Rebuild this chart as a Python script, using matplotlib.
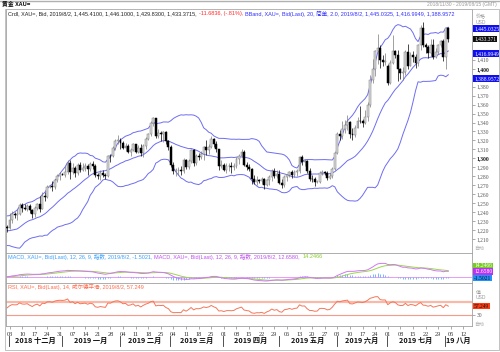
import matplotlib
matplotlib.use('Agg')
import matplotlib.pyplot as plt
import matplotlib.transforms as mtrans
from matplotlib.lines import Line2D
from matplotlib.patches import Rectangle
import numpy as np
import pandas as pd
import warnings
warnings.filterwarnings('ignore')

# ---------------- data ----------------
# closes before the visible window (2018-09-03 .. 2018-11-29), used for indicator warm-up
hist_close = [1200, 1192, 1198, 1201, 1196, 1195, 1189, 1206, 1201, 1194,
              1201, 1198, 1204, 1209, 1199, 1199, 1201, 1194, 1183, 1191,
              1188, 1204, 1202, 1199, 1203, 1188, 1190, 1194, 1224, 1218,
              1230, 1226, 1223, 1226, 1227, 1222, 1230, 1232, 1231, 1234,
              1228, 1222, 1214,
              1233, 1232, 1230, 1226, 1226, 1224, 1209, 1200, 1201, 1210,
              1214, 1222, 1224, 1222, 1227, 1226, 1222, 1222, 1214, 1221, 1223]

# visible daily candles 2018-11-30 .. 2019-08-02
opens = [1223.3,1222.5,1231.5,1238.0,1237.0,1238.0,1248.0,1244.5,1244.0,1246.5,
1242.0,1238.0,1245.0,1249.0,1243.5,1258.0,1257.0,1268.5,1269.0,1267.5,
1276.0,1280.5,1282.5,1282.0,1284.5,1294.5,1285.0,1289.5,1283.5,1292.5,
1287.5,1289.5,1291.5,1288.0,1294.0,1292.0,1282.0,1280.0,1283.5,1282.0,
1280.5,1303.0,1302.5,1312.0,1319.5,1321.0,1317.5,1311.5,1314.0,1307.0,
1309.5,1315.5,1307.5,1312.0,1305.5,1313.5,1321.5,1327.0,1340.0,1344.5,
1324.5,1328.5,1327.5,1329.0,1319.0,1313.0,1293.0,1286.0,1286.5,1286.5,
1286.0,1298.5,1290.0,1297.5,1309.5,1295.0,1302.5,1301.5,1305.0,1312.5,
1309.5,1313.0,1322.0,1315.5,1310.0,1291.0,1292.5,1287.0,1291.0,1291.5,
1290.5,1292.0,1299.0,1303.0,1307.0,1293.0,1290.0,1288.0,1276.5,1273.5,
1275.5,1275.0,1276.5,1270.5,1275.5,1279.0,1286.0,1280.5,1283.0,1273.0,
1270.0,1279.5,1281.0,1284.5,1281.0,1284.5,1285.5,1301.0,1296.5,1297.0,
1286.0,1277.5,1277.0,1273.5,1274.0,1284.0,1284.5,1283.5,1278.5,1280.0,
1288.5,1305.5,1327.0,1325.0,1333.0,1337.5,1341.0,1327.5,1326.5,1334.0,
1342.0,1341.5,1340.0,1346.5,1360.0,1387.0,1399.5,1419.5,1423.0,1409.5,
1408.0,1403.0,1384.5,1406.5,1419.5,1415.0,1400.0,1395.5,1396.5,1419.0,
1403.5,1415.5,1413.5,1406.5,1426.0,1445.5,1426.5,1424.5,1417.5,1426.5,
1413.0,1418.5,1426.5,1430.5,1413.5,1445.41]

highs = [1226.0,1238.5,1241.0,1240.5,1243.5,1250.5,1250.5,1249.0,1249.5,1249.5,
1244.0,1246.5,1250.5,1258.5,1262.0,1262.5,1270.5,1270.0,1275.0,1277.5,
1283.0,1284.5,1284.0,1292.0,1298.0,1298.5,1294.5,1291.0,1295.0,1295.5,
1295.0,1294.5,1294.0,1296.0,1297.0,1294.0,1284.0,1286.5,1286.5,1283.5,
1304.0,1304.5,1313.5,1322.0,1326.0,1323.0,1319.5,1317.0,1315.5,1312.0,
1317.5,1316.0,1315.0,1315.5,1316.5,1323.5,1328.5,1341.5,1346.5,1345.5,
1332.5,1331.0,1330.5,1330.0,1320.5,1314.5,1296.0,1289.5,1290.0,1292.0,
1300.0,1299.5,1299.0,1311.0,1310.0,1305.0,1305.5,1308.5,1314.0,1320.0,
1316.5,1324.5,1323.0,1319.5,1311.0,1298.5,1295.0,1295.0,1295.0,1295.5,
1295.0,1301.0,1305.0,1310.0,1309.0,1296.0,1294.0,1289.0,1281.5,1280.5,
1277.5,1279.0,1278.0,1277.5,1281.5,1288.0,1289.0,1286.5,1287.0,1276.5,
1281.0,1283.0,1286.0,1287.0,1287.0,1288.0,1302.5,1303.5,1299.5,1298.0,
1289.0,1281.5,1279.0,1276.0,1286.0,1287.5,1286.0,1286.0,1284.0,1290.0,
1306.0,1329.0,1332.0,1341.5,1342.5,1348.5,1342.0,1333.5,1337.0,1346.0,
1358.0,1344.0,1353.5,1363.0,1393.5,1411.0,1421.0,1439.0,1426.5,1415.5,
1418.0,1405.0,1410.0,1437.5,1421.0,1420.5,1400.5,1402.0,1420.5,1427.5,
1418.5,1419.5,1416.0,1427.5,1448.5,1452.5,1428.5,1426.5,1433.0,1433.0,
1423.0,1428.0,1432.0,1433.0,1446.0,1446.10]

lows = [1217.5,1221.5,1227.5,1234.0,1231.0,1236.5,1240.0,1242.5,1241.5,1238.5,
1233.5,1234.5,1242.5,1240.5,1243.0,1252.5,1255.5,1266.5,1264.0,1265.5,
1273.5,1276.0,1281.0,1279.0,1283.0,1276.5,1283.0,1279.0,1282.0,1284.5,
1286.0,1286.0,1281.5,1286.0,1288.0,1279.5,1276.5,1276.0,1279.5,1276.5,
1279.0,1296.0,1301.0,1309.0,1316.5,1310.0,1310.5,1308.0,1305.5,1302.5,
1308.0,1305.5,1306.0,1303.0,1302.0,1310.0,1320.5,1325.0,1336.5,1322.5,
1323.0,1319.5,1318.0,1315.5,1309.0,1290.5,1283.0,1280.5,1282.0,1281.5,
1283.5,1288.0,1288.0,1295.0,1292.0,1293.0,1298.0,1299.0,1298.5,1304.0,
1305.0,1311.5,1312.5,1307.0,1287.5,1289.5,1285.5,1283.5,1286.0,1283.5,
1286.5,1289.0,1293.5,1302.0,1291.5,1286.5,1285.5,1271.5,1271.0,1270.0,
1273.0,1271.5,1266.0,1269.5,1270.0,1274.5,1278.5,1278.0,1271.0,1266.5,
1267.5,1275.0,1279.5,1278.0,1279.5,1280.5,1283.5,1293.0,1291.5,1284.0,
1275.0,1274.0,1269.5,1272.0,1272.5,1281.0,1282.0,1276.0,1277.0,1278.0,
1287.5,1304.5,1320.5,1322.0,1328.5,1332.0,1323.0,1320.5,1324.0,1333.5,
1339.5,1334.5,1338.0,1341.5,1357.5,1384.5,1392.0,1405.5,1401.0,1403.5,
1404.5,1381.5,1382.5,1405.0,1411.5,1386.0,1388.5,1388.0,1393.5,1399.5,
1403.0,1407.5,1400.5,1403.0,1420.5,1424.5,1418.0,1412.5,1414.0,1411.0,
1412.0,1417.0,1424.0,1409.0,1400.0,1429.83]

closes = [1222.5,1231.5,1238.0,1237.0,1238.0,1248.0,1244.5,1244.0,1246.5,1242.0,
1238.0,1245.0,1249.0,1243.5,1258.0,1257.0,1268.5,1269.0,1267.5,1276.0,
1280.5,1282.5,1282.0,1284.5,1294.5,1285.0,1289.5,1283.5,1292.5,1287.5,
1289.5,1291.5,1288.0,1294.0,1292.0,1282.0,1280.0,1283.5,1282.0,1280.5,
1303.0,1302.5,1312.0,1319.5,1321.0,1317.5,1311.5,1314.0,1307.0,1309.5,
1315.5,1307.5,1312.0,1305.5,1313.5,1321.5,1327.0,1340.0,1344.5,1324.5,
1328.5,1327.5,1329.0,1319.0,1313.0,1293.0,1286.0,1286.5,1286.5,1286.0,
1298.5,1290.0,1297.5,1309.5,1295.0,1302.5,1301.5,1305.0,1312.5,1309.5,
1313.0,1322.0,1315.5,1310.0,1291.0,1292.5,1287.0,1291.0,1291.5,1290.5,
1292.0,1299.0,1303.0,1307.0,1293.0,1290.0,1288.0,1276.5,1273.5,1275.5,
1275.0,1276.5,1270.5,1275.5,1279.0,1286.0,1280.5,1283.0,1273.0,1270.0,
1279.5,1281.0,1284.5,1281.0,1284.5,1285.5,1301.0,1296.5,1297.0,1286.0,
1277.5,1277.0,1273.5,1274.0,1284.0,1284.5,1283.5,1278.5,1280.0,1288.5,
1305.5,1327.0,1325.0,1333.0,1337.5,1341.0,1327.5,1326.5,1334.0,1342.0,
1341.5,1340.0,1346.5,1360.0,1387.0,1399.5,1419.5,1423.0,1409.5,1408.0,
1409.0,1384.5,1406.5,1419.5,1415.0,1400.0,1395.5,1396.5,1419.0,1403.5,
1415.5,1413.5,1406.5,1426.0,1445.5,1426.5,1424.5,1417.5,1426.5,1413.0,
1418.5,1426.5,1430.5,1413.5,1445.0,1433.37]

start_date = '2018-11-30'
end_date = '2019-08-15'
price_ticks = [1210, 1220, 1230, 1240, 1250, 1260, 1270, 1280, 1290, 1300,
               1310, 1320, 1330, 1340, 1350, 1360, 1370, 1380, 1400, 1410]
bold_ticks = [1300, 1400]
month_names = {12: '2018 十二月', 1: '2019 一月', 2: '2019 二月', 3: '2019 三月',
               4: '2019 四月', 5: '2019 五月', 6: '2019 六月', 7: '2019 七月', 8: '19 八月'}

# last values as printed on the chart (value boxes on the right)
last_close = 1433.3715
bb_last = [1445.0325, 1416.9949, 1388.9572]
macd_last = 12.6580
signal_last = 14.2466
hist_last = -1.5021
rsi_last = 57.249

title_text = '黄金 XAU='
range_text = '2018/11/30 - 2019/08/15 (GMT)'
hdr_main = [('Crdl, XAU=, Bid, 2019/8/2, 1,445.4100, 1,446.1000, 1,429.8300, 1,433.3715,', '#222222'),
            ('-11.6836, (-.81%),', '#ff2a2a'),
            ('BBand, XAU=, Bid(Last), 20, 简单, 2.0, 2019/8/2, 1,445.0325, 1,416.9949, 1,388.9572', '#3030ff')]
hdr_macd = [('MACD, XAU=, Bid(Last), 12, 26, 9, 指数, 2019/8/2, -1.5021,', '#3aa0ff'),
            ('MACD, XAU=, Bid(Last), 12, 26, 9, 指数, 2019/8/2, 12.6580,', '#c050f0'),
            ('14.2466', '#88cc33')]
hdr_rsi = [('RSI, XAU=, Bid(Last), 14, 威尔德平滑, 2019/8/2, 57.249', '#ff6a4a')]

# ---------------- indicators ----------------
all_close = pd.Series(hist_close + closes, dtype=float)
n_hist = len(hist_close)
mid = all_close.rolling(20).mean()
sd = all_close.rolling(20).std(ddof=0)
upper = (mid + 2 * sd).iloc[n_hist:].values
lower = (mid - 2 * sd).iloc[n_hist:].values
mid = mid.iloc[n_hist:].values
ema12 = all_close.ewm(span=12, adjust=False).mean()
ema26 = all_close.ewm(span=26, adjust=False).mean()
macd = ema12 - ema26
signal = macd.ewm(span=9, adjust=False).mean()
hist = (macd - signal).iloc[n_hist:].values
macd_v = macd.iloc[n_hist:].values
signal_v = signal.iloc[n_hist:].values
delta = all_close.diff()
gain = delta.clip(lower=0).ewm(alpha=1/14, adjust=False).mean()
loss = (-delta.clip(upper=0)).ewm(alpha=1/14, adjust=False).mean()
rsi = (100 - 100 / (1 + gain / loss)).iloc[n_hist:].values

dates = pd.bdate_range(start_date, end_date)
n = len(closes)
xi = np.arange(n)

# ---------------- figure ----------------
W, H = 500, 352
fig = plt.figure(figsize=(W / 100, H / 100), dpi=100)
FN = ['Liberation Sans Narrow', 'Liberation Sans', 'Noto Sans CJK SC']
FS = ['Liberation Serif', 'Noto Sans CJK SC']
FC = ['Noto Sans CJK SC', 'DejaVu Sans']

def fx(p):
    return p / W

def fy(p):
    return 1 - p / H

X0, X1 = 6, 472
def add_ax(y0, y1):
    return fig.add_axes([fx(X0), fy(y1), (X1 - X0) / W, (y1 - y0) / H])

ax = add_ax(9, 253)
axm = add_ax(253, 283)
axr = add_ax(283, 326)
XL = (-0.4, len(dates) - 0.6)

for a in (ax, axm, axr):
    a.set_xlim(*XL)
    a.set_xticks([])
    for s in a.spines.values():
        s.set_color('#a0a0a0')
        s.set_linewidth(0.6)
    a.yaxis.tick_right()
    a.tick_params(axis='y', length=2, width=0.5, color='#888888', pad=1.5,
                  labelsize=4, labelcolor='#555555')

# candles
o = np.array(opens); h = np.array(highs); l = np.array(lows); c = np.array(closes)
up = c >= o
ax.vlines(xi[up], l[up], h[up], color='#7a7a7a', lw=0.5, zorder=2)
ax.vlines(xi[~up], l[~up], h[~up], color='#000000', lw=0.5, zorder=2)
ax.bar(xi[up], (c - o)[up], bottom=o[up], width=0.75, color='#dadada',
       edgecolor='#7a7a7a', linewidth=0.35, zorder=3)
ax.bar(xi[~up], (o - c)[~up], bottom=c[~up], width=0.75, color='#000000',
       edgecolor='#000000', linewidth=0.35, zorder=3)
bb_col = '#6d6df2'
ax.plot(xi, upper, color=bb_col, lw=0.7, zorder=1)
ax.plot(xi, mid, color=bb_col, lw=0.7, zorder=1)
ax.plot(xi, lower, color=bb_col, lw=0.7, zorder=1)
ax.set_ylim(1194.4, 1466.7)
ax.set_yticks(price_ticks)
ax.set_yticklabels([f'{v:,}' for v in price_ticks], family=FS)
for lab, v in zip(ax.get_yticklabels(), price_ticks):
    if v in bold_ticks:
        lab.set_fontweight('bold')
        lab.set_color('#111111')

# MACD
axm.axhline(0, color='#e58cf5', lw=0.6, zorder=1)
axm.vlines(xi, 0, hist, color='#59b0ff', lw=0.6, zorder=2)
axm.plot(xi, signal_v, color='#9ad84a', lw=0.7, zorder=3)
axm.plot(xi, macd_v, color='#d277f5', lw=0.7, zorder=3)
axm.set_ylim(-12, 52)
axm.set_yticks([])

# RSI
axr.axhline(70, color='#f9b9a9', lw=1.6, zorder=1)
axr.axhline(30, color='#f59a86', lw=0.8, zorder=1)
axr.plot(xi, rsi, color='#f5765a', lw=0.7, zorder=2)
axr.set_ylim(-4, 128.5)
axr.set_yticks([30])
axr.set_yticklabels(['30'], family=FS)

# x ticks (Mondays)
mon = [i for i, d in enumerate(dates) if d.weekday() == 0]
axr.set_xticks(mon)
axr.set_xticklabels([dates[i].strftime('%d') for i in mon], family=FS)
axr.tick_params(axis='x', length=2, width=0.5, color='#888888', pad=2,
                labelsize=4.6, labelcolor='#333333')

# month row
month_start = [i for i in range(1, len(dates)) if dates[i].month != dates[i - 1].month]
bounds = month_start + [len(dates)]

def data_x_to_px(xv):
    return axr.transData.transform((xv, 0))[0]

for k, s in enumerate(month_start):
    e = bounds[k + 1]
    xs = s - 0.3
    px = data_x_to_px(xs)
    fig.add_artist(Line2D([fx(px), fx(px)], [fy(336), fy(345.5)], color='#333333', lw=0.6))
    mname = month_names[dates[s].month]
    if k == len(month_start) - 1:
        fig.text(fx(px + 1.0), fy(340.8), mname, fontsize=5.2, fontweight='bold',
                 family=FC, ha='left', va='center', color='#111111')
    else:
        cx = data_x_to_px((xs + e - 0.3) / 2)
        fig.text(fx(cx), fy(340.8), mname, fontsize=5.2, fontweight='bold',
                 family=FC, ha='center', va='center', color='#111111')

# frame lines
fig.add_artist(Line2D([fx(0), fx(500)], [fy(0.5), fy(0.5)], color='#b0b0b0', lw=1.0))
fig.add_artist(Rectangle((fx(5), fy(349.5)), fx(493.5), (349.5 - 9) / H, fill=False,
                         ec='#b8b8b8', lw=0.6, transform=fig.transFigure))

# header texts
renderer = fig.canvas.get_renderer()
def seg_text(x_px, y_px, segs, size, fam=FN, gap=2.0):
    x = x_px
    for s, col in segs:
        t = fig.text(fx(x), fy(y_px), s, color=col, fontsize=size, family=fam,
                     ha='left', va='center')
        bb = t.get_window_extent(renderer=renderer)
        x += bb.width + gap

fig.text(fx(2), fy(4.2), title_text, fontsize=4.2, fontweight='bold', family=FC,
         ha='left', va='center', color='#111111')
fig.text(fx(497), fy(4.5), range_text, fontsize=3.6, family=FN, ha='right',
         va='center', color='#9a9a9a')
seg_text(8, 13.5, hdr_main, 4.0)
seg_text(8, 257, hdr_macd, 4.0)
seg_text(8, 287, hdr_rsi, 4.0)

# right-side value boxes and labels
def rbox(a, val, label, fc, tc='white', dy=0.0):
    tr = mtrans.blended_transform_factory(a.transAxes, a.transData)
    a.text(1.0, val, label, transform=tr + mtrans.ScaledTranslation(2 / 100, dy / 100, fig.dpi_scale_trans),
           fontsize=4, family=FS, color=tc, ha='left', va='center', zorder=10,
           clip_on=False,
           bbox=dict(boxstyle='square,pad=0.12', fc=fc, ec='none'))

rbox(ax, bb_last[0], f'{bb_last[0]:,.4f}'[:10], '#1010ee')
rbox(ax, last_close, f'{last_close:,.4f}'[:9], '#111111')
rbox(ax, bb_last[1], f'{bb_last[1]:,.4f}'[:10], '#1010ee')
rbox(ax, bb_last[2], f'{bb_last[2]:,.4f}'[:10], '#1010ee')
fig.text(fx(476), fy(17), '价格', fontsize=3.6, family=FC, color='#9a9a9a', va='center')
fig.text(fx(476), fy(22.5), 'USD', fontsize=3.6, family=FN, color='#9a9a9a', va='center')
fig.text(fx(474), fy(248.5), '自动', fontsize=3.6, family=FC, color='#b0b0b0', va='center')
fig.text(fx(474), fy(324.5), '自动', fontsize=3.6, family=FC, color='#b0b0b0', va='center')
fig.text(fx(476), fy(292), '值', fontsize=3.6, family=FC, color='#9a9a9a', va='center')
fig.text(fx(476), fy(297.5), 'USD', fontsize=3.6, family=FN, color='#9a9a9a', va='center')

rbox(axm, signal_last, f'{signal_last:.4f}', '#77cc22', dy=5)
rbox(axm, macd_last, f'{macd_last:.4f}', '#bb33ee')
rbox(axm, hist_last, f'{hist_last:.4f}', '#1e90ff', tc='#111111')
rbox(axr, rsi_last, f'{rsi_last:.3f}', '#ff3a10', tc='#111111')

fig.savefig('out.png', dpi=100)
